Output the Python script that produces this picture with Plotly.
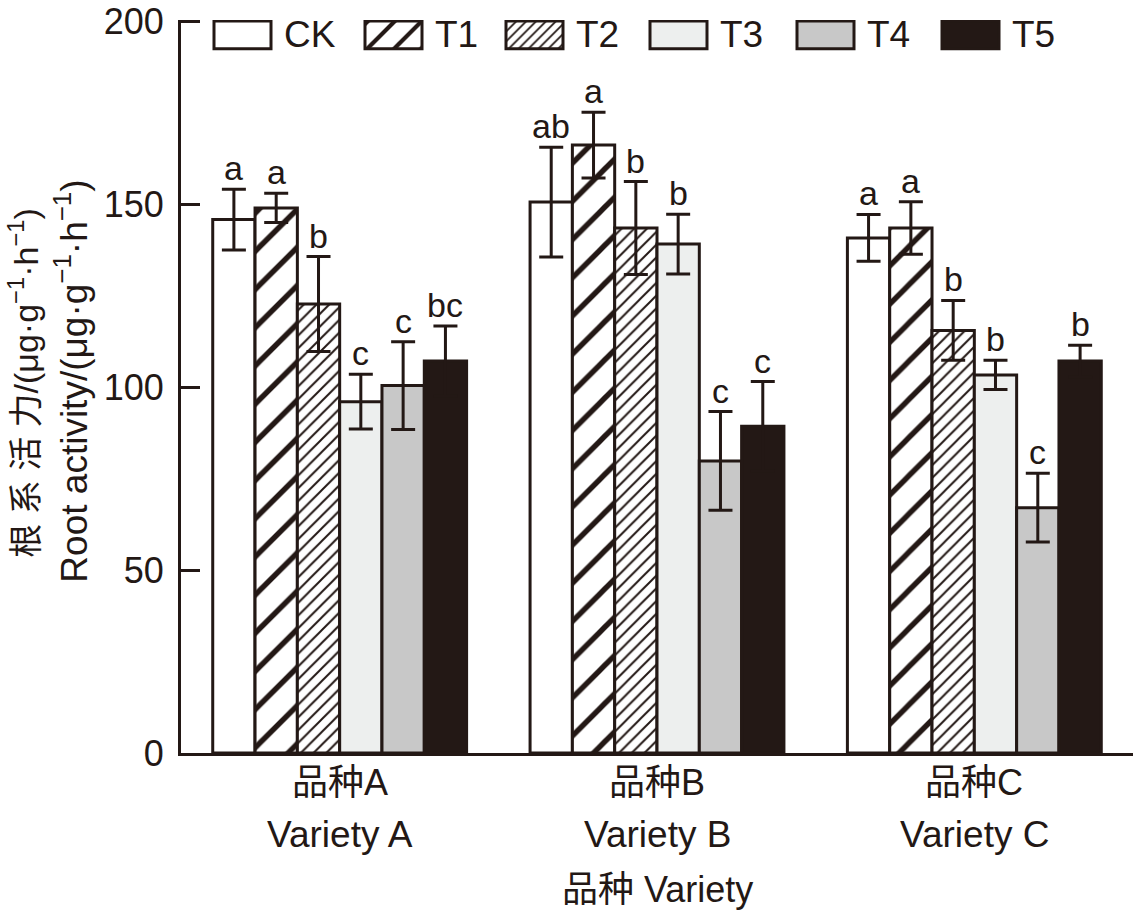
import plotly.graph_objects as go

# ---------------- data ----------------
varieties = ["品种A", "品种B", "品种C"]
varieties_en = ["Variety A", "Variety B", "Variety C"]
treatments = ["CK", "T1", "T2", "T3", "T4", "T5"]

ck = [145.9, 150.7, 140.9]
t1 = [149.1, 166.3, 143.6]
t2 = [122.8, 143.6, 115.6]
t3 = [96.1, 139.2, 103.4]
t4 = [100.5, 79.9, 67.1]
t5 = [107.2, 89.4, 107.2]

ck_err = [8.3, 15.0, 6.4]
t1_err = [4.0, 9.0, 7.2]
t2_err = [13.0, 12.7, 8.2]
t3_err = [7.5, 8.2, 4.0]
t4_err = [12.0, 13.5, 9.4]
t5_err = [9.6, 12.2, 4.3]

ck_sig = ["a", "ab", "a"]
t1_sig = ["a", "a", "a"]
t2_sig = ["b", "b", "b"]
t3_sig = ["c", "b", "b"]
t4_sig = ["c", "c", "c"]
t5_sig = ["bc", "c", "b"]

y_ticks = [0, 50, 100, 150, 200]

values = [ck, t1, t2, t3, t4, t5]
errors = [ck_err, t1_err, t2_err, t3_err, t4_err, t5_err]
sigs = [ck_sig, t1_sig, t2_sig, t3_sig, t4_sig, t5_sig]

# ---------------- styles ----------------
INK = "#231815"
FONT = "Liberation Sans, Arial, Noto Sans CJK SC, sans-serif"
fills = ["#ffffff", "#ffffff", "#ffffff", "#edefee", "#c8c8c8", INK]
shapes_p = ["", "/", "/", "", "", ""]
sizes_p = [27, 27, 9, 10, 10, 10]
solid_p = [0.2, 0.2, 0.22, 0.2, 0.2, 0.2]
leg_sizes = [19, 19, 7, 10, 10, 10]
leg_solid = [0.22, 0.22, 0.25, 0.2, 0.2, 0.2]

# figure geometry (body margin removed via post_script)
FIG_W, FIG_H = 1134, 912
ML, MR, MT, MB = 181, 1, 15, 159
PW = FIG_W - ML - MR      # plot width in px
PH = FIG_H - MT - MB      # plot height in px

fig = go.Figure()

for k, name in enumerate(treatments):
    fig.add_trace(go.Bar(
        name=name, x=varieties, y=values[k],
        marker=dict(
            color=fills[k],
            line=dict(color=INK, width=3),
            pattern=dict(shape=shapes_p[k], size=sizes_p[k], solidity=solid_p[k],
                         fgcolor=INK, bgcolor=fills[k], fillmode="replace"),
        ),
        error_y=dict(type="data", array=errors[k], visible=True,
                     color=INK, thickness=3, width=12),
        showlegend=False,
    ))

# significance letters above error bars
ngroups = len(treatments)
group_w = 0.8
bar_w = group_w / ngroups
annotations = []
for k in range(ngroups):
    for i in range(len(varieties)):
        xpos = i - group_w / 2 + (k + 0.5) * bar_w
        annotations.append(dict(
            x=xpos, y=values[k][i] + errors[k][i], xref="x", yref="y",
            text=sigs[k][i], showarrow=False, yanchor="bottom", yshift=0,
            font=dict(size=34, color=INK, family=FONT),
        ))

# x category labels (two lines) and axis title
for i in range(len(varieties)):
    annotations.append(dict(x=i, y=-0.0407, xref="x", yref="paper", text=varieties[i],
                            showarrow=False, yanchor="middle",
                            font=dict(size=36, color=INK, family=FONT)))
    annotations.append(dict(x=i, y=-0.111, xref="x", yref="paper", text=varieties_en[i],
                            showarrow=False, yanchor="middle",
                            font=dict(size=37, color=INK, family=FONT)))
annotations.append(dict(x=1, y=-0.1856, xref="x", yref="paper", text="品种 Variety",
                        showarrow=False, yanchor="middle",
                        font=dict(size=36, color=INK, family=FONT)))

# y-axis title (two rotated lines)
annotations.append(dict(x=-0.165, y=0.505, xref="paper", yref="paper",
                        text="根 系 活 力/(μg·g<sup>−1</sup>·h<sup>−1</sup>)",
                        showarrow=False, textangle=-90, xanchor="center", yanchor="middle",
                        font=dict(size=34, color=INK, family=FONT)))
annotations.append(dict(x=-0.1145, y=0.508, xref="paper", yref="paper",
                        text="Root activity/(μg·g<sup>−1</sup>·h<sup>−1</sup>)",
                        showarrow=False, textangle=-90, xanchor="center", yanchor="middle",
                        font=dict(size=37, color=INK, family=FONT)))

# ---------------- custom legend (overlay axes in pixel units) ----------------
leg_left = [33, 184, 325, 469, 616, 761]   # box left edges relative to plot left
leg_w = 57
leg_h = 28
leg_base = PH - 44 + MT   # box bottom, px above plot bottom
for k, name in enumerate(treatments):
    fig.add_trace(go.Bar(
        x=[leg_left[k]], y=[leg_h], base=[leg_base], width=[leg_w], offset=0,
        xaxis="x2", yaxis="y2", showlegend=False, cliponaxis=False, hoverinfo="skip",
        marker=dict(
            color=fills[k],
            line=dict(color=INK, width=3),
            pattern=dict(shape=shapes_p[k], size=leg_sizes[k], solidity=leg_solid[k],
                         fgcolor=INK, bgcolor=fills[k], fillmode="replace"),
        ),
    ))
    annotations.append(dict(x=leg_left[k] + leg_w + 11, y=leg_base + leg_h / 2,
                            xref="x2", yref="y2",
                            text=name, showarrow=False, xanchor="left", yanchor="middle",
                            font=dict(size=37, color=INK, family=FONT)))

fig.update_layout(
    width=FIG_W, height=FIG_H,
    margin=dict(l=ML, r=MR, t=MT, b=MB),
    paper_bgcolor="white", plot_bgcolor="white",
    barmode="group", bargap=0.2, bargroupgap=0,
    font=dict(family=FONT, color=INK, size=36),
    annotations=annotations,
    xaxis=dict(range=[-0.5, 2.5], showline=True, linewidth=3, linecolor=INK,
               ticks="", showticklabels=False, showgrid=False, zeroline=False),
    yaxis=dict(range=[0, 200.5], tickvals=y_ticks,
               showline=True, linewidth=3, linecolor=INK,
               ticks="inside", ticklen=19, tickwidth=3, tickcolor=INK,
               ticklabelstandoff=7, ticklabeloverflow="allow",
               tickfont=dict(size=36, color=INK, family=FONT),
               showgrid=False, zeroline=False),
    xaxis2=dict(range=[0, PW], overlaying="x", anchor="y2", visible=False,
                showgrid=False, zeroline=False),
    yaxis2=dict(range=[0, PH], overlaying="y", anchor="x2", visible=False,
                showgrid=False, zeroline=False),
    showlegend=False,
)

fig.write_html("out.html", config={"displayModeBar": False},
               post_script="document.body.style.margin='0px';document.body.style.overflow='hidden';")
